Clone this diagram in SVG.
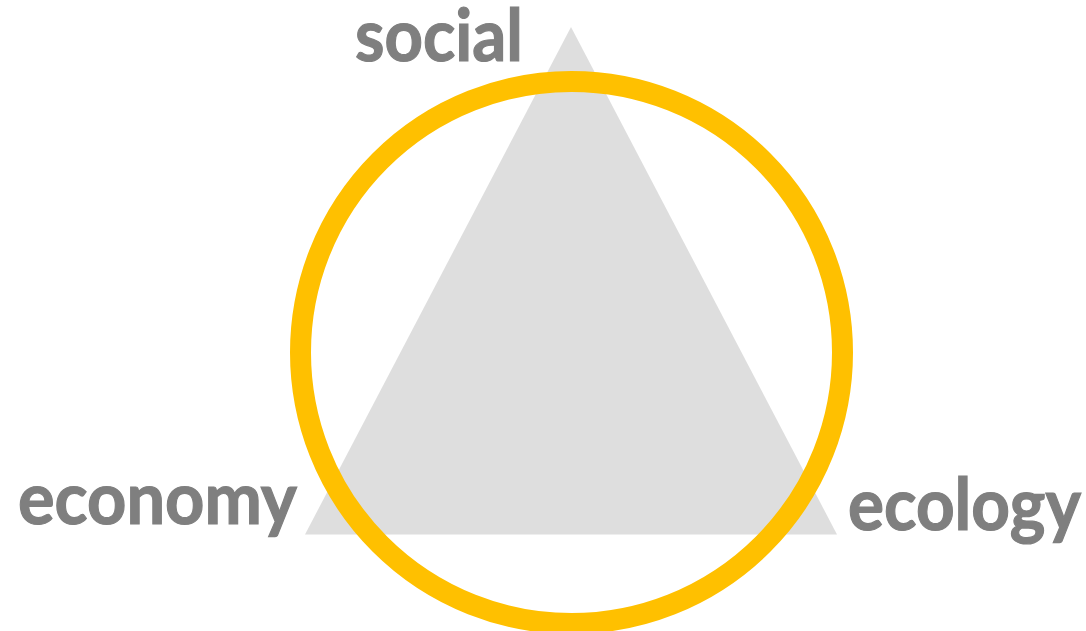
<svg xmlns="http://www.w3.org/2000/svg" width="1086" height="631" viewBox="0 0 1086 631">
<style>
.lbl{font-family:Lato,"Open Sans","Liberation Sans",sans-serif;font-weight:bold;font-size:72px;fill:#7f7f7f;stroke:#7f7f7f;stroke-width:1.2}
</style>
<rect width="1086" height="631" fill="#ffffff"/>
<g id="triangle"><polygon points="571,27 305,534.5 837,534.5" fill="#dedede"/></g>
<g id="ring"><circle cx="571.5" cy="352.5" r="271" fill="none" stroke="#ffc000" stroke-width="21"/></g>
<g id="social"><text class="lbl" x="355" y="61" textLength="168" lengthAdjust="spacingAndGlyphs">social</text></g>
<g id="economy"><text class="lbl" x="18" y="524" textLength="279" lengthAdjust="spacingAndGlyphs">economy</text></g>
<g id="ecology"><text class="lbl" x="848" y="530" textLength="233" lengthAdjust="spacingAndGlyphs">ecology</text></g>
</svg>
